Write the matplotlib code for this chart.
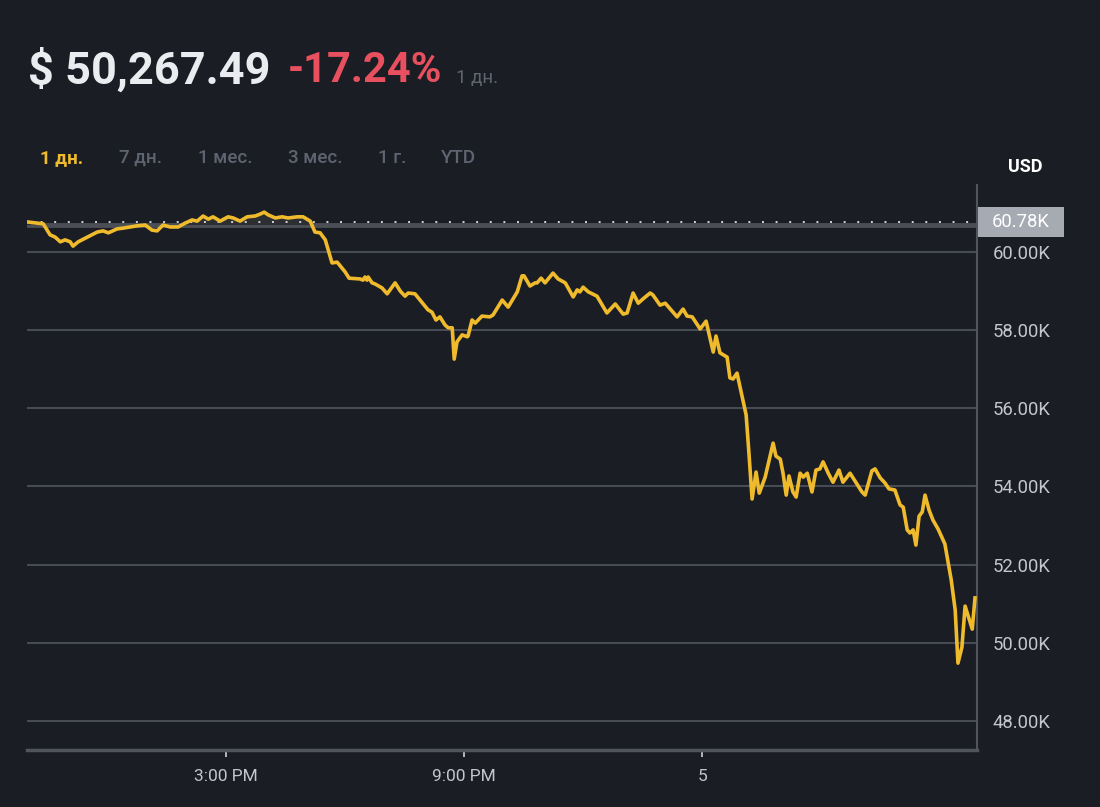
import matplotlib
matplotlib.use("Agg")
import matplotlib.pyplot as plt
from matplotlib.patches import Rectangle

# ---------------- data ----------------
# time in hours (10 = 10:00 AM day 4, 27 = tick "5"), price in USD
times = [9.98, 10.24, 10.39, 10.56, 10.69, 10.82, 10.94, 11.07, 11.14, 11.27, 11.50, 11.75, 11.90, 12.03,
         12.25, 12.40, 12.58, 12.76, 12.96, 13.13, 13.26, 13.41, 13.59, 13.79, 13.97, 14.14, 14.27, 14.42,
         14.55, 14.67, 14.85, 15.05, 15.18, 15.35, 15.53, 15.73, 15.86, 15.96, 16.06, 16.24, 16.41, 16.56,
         16.79, 16.94, 17.12, 17.24, 17.37,
         17.50, 17.67, 17.80, 17.92, 18.00, 18.10, 18.38, 18.45, 18.50, 18.55, 18.58, 18.68, 18.76, 18.93,
         19.06, 19.26, 19.39, 19.51, 19.59, 19.76, 19.89, 20.09, 20.19, 20.29, 20.39, 20.52, 20.60, 20.70,
         20.75, 20.82, 20.95, 21.08, 21.10, 21.20, 21.28, 21.45, 21.65, 21.73, 21.96, 22.11, 22.34, 22.46,
         22.51, 22.66, 22.79,
         22.84, 22.94, 23.04, 23.24, 23.37, 23.55, 23.75, 23.85, 23.92, 24.00, 24.13, 24.35, 24.60, 24.81,
         25.01, 25.11, 25.26, 25.39, 25.51, 25.69, 25.76, 25.94, 26.07, 26.37, 26.52, 26.62, 26.75, 26.95,
         27.10, 27.28, 27.35, 27.45, 27.63, 27.70, 27.78, 27.88, 28.01, 28.11, 28.18, 28.26, 28.36, 28.44,
         28.59, 28.69, 28.79, 28.86, 28.97, 29.04, 29.12, 29.19, 29.29, 29.37, 29.47, 29.55, 29.65, 29.77,
         29.87, 29.97, 30.05, 30.18, 30.30, 30.45, 30.55, 30.73,
         31.03, 31.11, 31.28, 31.36, 31.49, 31.61, 31.71, 31.86, 31.99, 32.07, 32.17, 32.24, 32.32, 32.39,
         32.47, 32.55, 32.62, 32.72, 32.82, 32.95, 33.12, 33.28, 33.38, 33.45, 33.55, 33.63, 33.81, 33.88]

prices = [60770, 60740, 60720, 60440, 60380, 60260, 60310, 60260, 60150, 60260, 60380, 60510, 60540, 60490,
          60590, 60610, 60640, 60670, 60690, 60560, 60540, 60690, 60640, 60640, 60740, 60820, 60790, 60920,
          60840, 60900, 60790, 60900, 60870, 60790, 60900, 60920, 60970, 61020, 60950, 60870, 60900, 60870,
          60900, 60900, 60790, 60510, 60490,
          60310, 59720, 59740, 59590, 59490, 59330, 59310, 59280, 59360, 59280, 59360, 59210, 59180, 59080,
          58930, 59210, 59000, 58870, 58950, 58930, 58770, 58520, 58460, 58260, 58340, 58130, 58060, 58060,
          57260, 57700, 57880, 57830, 57850, 58260, 58180, 58360, 58340, 58390, 58770, 58590, 58980, 59390,
          59390, 59130, 59210,
          59210, 59330, 59210, 59460, 59310, 59210, 58850, 59030, 58980, 59100, 58980, 58870, 58440, 58670,
          58410, 58440, 58950, 58690, 58800, 58950, 58900, 58640, 58690, 58340, 58540, 58360, 58340, 58030,
          58230, 57440, 57850, 57420, 57310, 56780, 56750, 56900, 56290, 55830, 54860, 53680, 54370, 53830,
          54240, 54680, 55110, 54780, 54700, 54340, 53780, 54270, 53860, 53730, 54340, 54240, 54340, 53860,
          54420, 54450, 54630, 54340, 54110, 54420, 54110, 54340,
          53860, 53780, 54400, 54450, 54220, 54090, 53940, 53910, 53530, 53470, 52890, 52810, 52890, 52500,
          53240, 53350, 53780, 53400, 53140, 52910, 52530, 51610, 50840, 49480, 49890, 50940, 50350, 51150]

y_ticks = [48000, 50000, 52000, 54000, 56000, 58000, 60000]
x_tick_pos = [15, 21, 27]
x_tick_labels = ["3:00 PM", "9:00 PM", "5"]
ref_price = 60780       # dotted reference line
base_price = 60690      # grey baseline
x_range = (9.98, 33.93)
y_range = (47258, 61714)

header_price = "$ 50,267.49"
header_change = "-17.24%"
header_period = "1 дн."
tabs = ["1 дн.", "7 дн.", "1 мес.", "3 мес.", "1 г.", "YTD"]

# ---------------- style ----------------
BG = "#1a1d23"
LINE = "#efbb2c"
GRID = "#474b53"
TXT = "#c3c7cd"
DIM = "#5e6470"

plt.rcParams['font.family'] = ['Roboto', 'DejaVu Sans']

fig = plt.figure(figsize=(11, 8.07), dpi=100, facecolor=BG)
W, H = 1100, 807

def fx(px):
    return px / W

def fy(py):
    return 1 - py / H

ax = fig.add_axes([fx(27), fy(750), fx(977) - fx(27), fy(185) - fy(750)])
ax.set_facecolor(BG)
ax.set_xlim(*x_range)
ax.set_ylim(*y_range)

# gridlines
for v in y_ticks:
    ax.axhline(v, color=GRID, lw=1.5, zorder=1)

# baseline & reference
ax.axhline(base_price, color="#4b4e54", lw=3.5, zorder=2, xmax=0.997)
ax.axhline(ref_price, color="#d0d3d8", lw=1.4, ls=(0, (1, 6)), zorder=3)

# subtle fill where above baseline
ax.fill_between(times, prices, base_price, where=[p > base_price for p in prices],
                interpolate=True, color="#2c2e31", zorder=2, lw=0)

ax.plot(times, prices, color=LINE, lw=2.6, zorder=5, solid_joinstyle='round')

# spines
for s in ["top", "left"]:
    ax.spines[s].set_visible(False)
ax.spines["right"].set_color("#50545c")
ax.spines["right"].set_linewidth(1.5)
ax.spines["bottom"].set_color("#50545c")
ax.spines["bottom"].set_linewidth(2.5)

ax.yaxis.tick_right()
ax.set_yticks(y_ticks)
ax.set_yticklabels([f"{v/1000:.2f}K" for v in y_ticks])
ax.tick_params(axis="y", length=0, pad=11, labelsize=13.3, labelcolor=TXT)

ax.set_xticks(x_tick_pos)
ax.set_xticklabels(x_tick_labels)
ax.tick_params(axis="x", length=5, width=1.2, color="#d0d3d8", pad=9, labelsize=12.5, labelcolor=TXT)

# reference label box
ref_y_frac = (ref_price - y_range[0]) / (y_range[1] - y_range[0])
box_h = 30 / H
box_y = fy(185) - (1 - ref_y_frac) * (fy(185) - fy(750))
fig.patches.append(Rectangle((fx(978), box_y - box_h / 2), fx(1064) - fx(978), box_h,
                             transform=fig.transFigure, facecolor="#a6aab2", edgecolor="none"))
fig.text(fx(1021), box_y, f"{ref_price/1000:.2f}K", color="white", fontsize=13.3,
         ha="center", va="center")

fig.text(fx(1025), fy(167), "USD", color="white", fontsize=13, fontweight="bold",
         ha="center", va="center")

# header
fig.text(fx(28), fy(70), header_price, color="#eaecef", fontsize=32.5, fontweight="bold",
         ha="left", va="center")
fig.text(fx(288), fy(70), header_change, color="#e8505f", fontsize=30, fontweight="bold",
         ha="left", va="center")
fig.text(fx(456), fy(78), header_period, color=DIM, fontsize=13.5, ha="left", va="center")

tab_x = [40, 119, 198, 288, 378, 441]
for i, (lab, xx) in enumerate(zip(tabs, tab_x)):
    fig.text(fx(xx), fy(158), lab, color=LINE if i == 0 else DIM, fontsize=13.5,
             fontweight="bold" if i == 0 else "medium", ha="left", va="center")

fig.savefig("out.png", dpi=100, facecolor=BG)
